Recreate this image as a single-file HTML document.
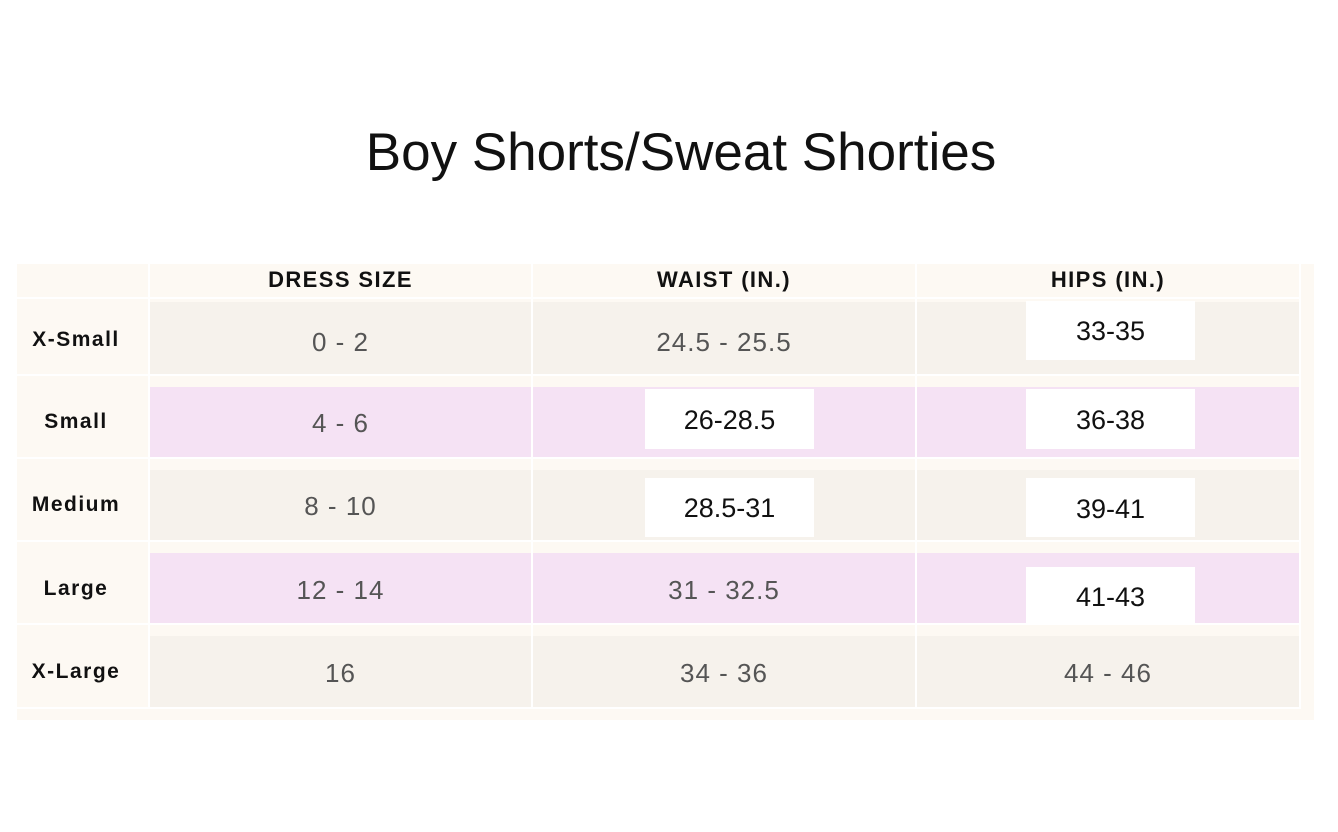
<!DOCTYPE html>
<html>
<head>
<meta charset="utf-8">
<style>
html,body{margin:0;padding:0;background:#fff;}
body{width:1338px;height:832px;position:relative;overflow:hidden;font-family:"Liberation Sans",Arial,sans-serif;}
.a{position:absolute;}
.title{left:300px;width:762px;top:126px;font-size:53px;line-height:53px;text-align:center;color:#111;}
.bg{left:17px;top:264px;width:1297px;height:456px;background:#fdf9f3;}
.vl{width:2px;background:#fff;top:264px;height:445px;}
.hl{height:2px;background:#fff;left:17px;width:1284px;}
.g{background:#f6f2ec;}
.p{background:#f5e2f4;}
.w{background:#fff;}
.t{height:40px;line-height:40px;text-align:center;white-space:nowrap;}
.h{font-weight:bold;font-size:22px;letter-spacing:1.4px;color:#111;}
.l{font-weight:bold;font-size:21px;letter-spacing:1.5px;color:#111;}
.d{font-size:26px;letter-spacing:1px;color:#555;}
.b{font-size:27px;color:#111;}
</style>
</head>
<body>
<div class="a title">Boy Shorts/Sweat Shorties</div>

<div class="a bg"></div>

<!-- row cells -->
<div class="a g" style="left:150px;top:302px;width:381px;height:72px"></div>
<div class="a g" style="left:533px;top:302px;width:382px;height:72px"></div>
<div class="a g" style="left:917px;top:302px;width:382px;height:72px"></div>

<div class="a p" style="left:150px;top:387px;width:381px;height:70px"></div>
<div class="a p" style="left:533px;top:387px;width:382px;height:70px"></div>
<div class="a p" style="left:917px;top:387px;width:382px;height:70px"></div>

<div class="a g" style="left:150px;top:470px;width:381px;height:70px"></div>
<div class="a g" style="left:533px;top:470px;width:382px;height:70px"></div>
<div class="a g" style="left:917px;top:470px;width:382px;height:70px"></div>

<div class="a p" style="left:150px;top:553px;width:381px;height:70px"></div>
<div class="a p" style="left:533px;top:553px;width:382px;height:70px"></div>
<div class="a p" style="left:917px;top:553px;width:382px;height:70px"></div>

<div class="a g" style="left:150px;top:636px;width:381px;height:71px"></div>
<div class="a g" style="left:533px;top:636px;width:382px;height:71px"></div>
<div class="a g" style="left:917px;top:636px;width:382px;height:71px"></div>

<!-- white lines -->
<div class="a vl" style="left:148px"></div>
<div class="a vl" style="left:531px"></div>
<div class="a vl" style="left:915px"></div>
<div class="a vl" style="left:1299px"></div>
<div class="a hl" style="top:297px"></div>
<div class="a hl" style="top:374px"></div>
<div class="a hl" style="top:457px"></div>
<div class="a hl" style="top:540px"></div>
<div class="a hl" style="top:623px"></div>
<div class="a hl" style="top:707px"></div>

<!-- white boxes -->
<div class="a w" style="left:1026px;top:301px;width:169px;height:59px"></div>
<div class="a w" style="left:645px;top:389px;width:169px;height:60px"></div>
<div class="a w" style="left:1026px;top:389px;width:169px;height:60px"></div>
<div class="a w" style="left:645px;top:478px;width:169px;height:59px"></div>
<div class="a w" style="left:1026px;top:478px;width:169px;height:59px"></div>
<div class="a w" style="left:1026px;top:567px;width:169px;height:58px"></div>

<!-- header text -->
<div class="a t h" style="left:150px;width:381px;top:260px">DRESS SIZE</div>
<div class="a t h" style="left:533px;width:382px;top:260px">WAIST (IN.)</div>
<div class="a t h" style="left:917px;width:382px;top:260px">HIPS (IN.)</div>

<!-- labels -->
<div class="a t l" style="left:17px;width:118px;top:320px">X-Small</div>
<div class="a t l" style="left:17px;width:118px;top:402px">Small</div>
<div class="a t l" style="left:17px;width:118px;top:485px">Medium</div>
<div class="a t l" style="left:17px;width:118px;top:569px">Large</div>
<div class="a t l" style="left:17px;width:118px;top:652px">X-Large</div>

<!-- dress size -->
<div class="a t d" style="left:150px;width:381px;top:322px">0 - 2</div>
<div class="a t d" style="left:150px;width:381px;top:403px">4 - 6</div>
<div class="a t d" style="left:150px;width:381px;top:486px">8 - 10</div>
<div class="a t d" style="left:150px;width:381px;top:570px">12 - 14</div>
<div class="a t d" style="left:150px;width:381px;top:653px">16</div>

<!-- waist -->
<div class="a t d" style="left:533px;width:382px;top:322px">24.5 - 25.5</div>
<div class="a t b" style="left:645px;width:169px;top:400px">26-28.5</div>
<div class="a t b" style="left:645px;width:169px;top:488px">28.5-31</div>
<div class="a t d" style="left:533px;width:382px;top:570px">31 - 32.5</div>
<div class="a t d" style="left:533px;width:382px;top:653px">34 - 36</div>

<!-- hips -->
<div class="a t b" style="left:1026px;width:169px;top:311px">33-35</div>
<div class="a t b" style="left:1026px;width:169px;top:400px">36-38</div>
<div class="a t b" style="left:1026px;width:169px;top:489px">39-41</div>
<div class="a t b" style="left:1026px;width:169px;top:577px">41-43</div>
<div class="a t d" style="left:917px;width:382px;top:653px">44 - 46</div>
</body>
</html>
